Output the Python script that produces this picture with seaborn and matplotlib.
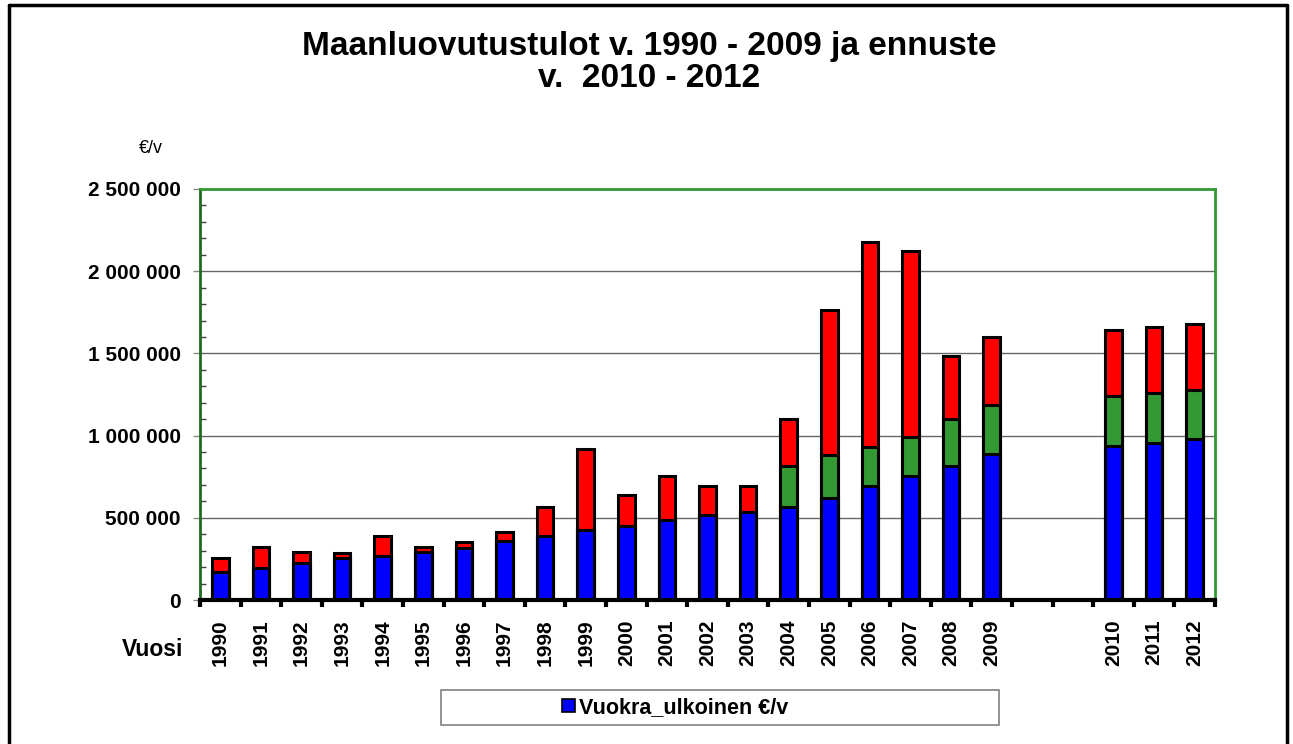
import pandas as pd
import numpy as np
import seaborn as sns
import matplotlib.pyplot as plt
from matplotlib.patches import Rectangle, Patch
from matplotlib.lines import Line2D
from matplotlib.ticker import MultipleLocator, FuncFormatter

sns.set_style("white")
plt.rcParams['font.family'] = ['Liberation Sans', 'DejaVu Sans']
plt.rcParams['text.color'] = 'black'
plt.rcParams['xtick.color'] = 'black'
plt.rcParams['ytick.color'] = 'black'

# Data (euros per year)
years = ["1990", "1991", "1992", "1993", "1994", "1995", "1996", "1997", "1998", "1999",
         "2000", "2001", "2002", "2003", "2004", "2005", "2006", "2007", "2008", "2009",
         "2010", "2011", "2012"]
vuokra_ulkoinen = [168000, 197000, 223000, 257000, 270000, 292000, 318000, 359000, 389000, 426000,
                   452000, 487000, 517000, 533000, 564000, 622000, 695000, 754000, 817000, 888000,
                   939000, 957000, 977000]
vuokra_muu = [0, 0, 0, 0, 0, 0, 0, 0, 0, 0,
              0, 0, 0, 0, 253000, 258000, 238000, 236000, 284000, 296000,
              302000, 300000, 300000]
myynti = [86000, 127000, 71000, 31000, 119000, 28000, 37000, 55000, 175000, 491000,
          187000, 267000, 176000, 160000, 286000, 884000, 1245000, 1133000, 383000, 416000,
          399000, 402000, 400000]

# x order: two empty slots between history and forecast
order = years[:20] + [" ", "  "] + years[20:]

df = pd.DataFrame({"vuosi": years, "blue": vuokra_ulkoinen,
                   "green": vuokra_muu, "red": myynti})
df["mid"] = df["blue"] + df["green"]
df["total"] = df["mid"] + df["red"]

fig = plt.figure(figsize=(12.93, 7.44), dpi=100)
ax = fig.add_axes([0.1547, 0.1935, 0.785, 0.5525])

# stacked bars: draw the totals first, then overlay lower parts
for col, color in [("total", "#FF0000"), ("mid", "#339933"), ("blue", "#0000FF")]:
    sns.barplot(data=df, x="vuosi", y=col, order=order, color=color, width=0.41,
                edgecolor="black", linewidth=2.2, saturation=1, ax=ax, zorder=3)

ax.set_ylim(0, 2500000)
ax.set_xlim(-0.5, len(order) - 0.5)
ax.yaxis.set_major_locator(MultipleLocator(500000))
ax.yaxis.set_minor_locator(MultipleLocator(100000))
ax.yaxis.set_major_formatter(FuncFormatter(lambda v, p: f"{int(v):,}".replace(",", " ")))
ax.grid(axis="y", which="major", color="#666666", linewidth=1.0, zorder=0)
ax.set_axisbelow(True)

ax.set_xlabel("")
ax.set_ylabel("")
ax.set_xticks(range(len(order)))
ax.set_xticklabels(order, rotation=90, fontweight="bold", fontsize=15)
ax.set_xticks(np.arange(-0.5, len(order), 1), minor=True)
ax.tick_params(axis="x", which="major", length=0, pad=14, bottom=True)
ax.tick_params(axis="x", which="minor", length=5, width=3, color="black", direction="out",
               bottom=True)
ax.tick_params(axis="y", which="major", length=5, width=1, color="#888888", direction="out",
               labelsize=15, pad=9, left=True)
ax.tick_params(axis="y", which="minor", length=4, width=1, color="#444444", direction="in",
               left=True)
for lab in ax.get_yticklabels():
    lab.set_fontweight("bold")

for side in ["top", "right"]:
    ax.spines[side].set_color("#339933")
    ax.spines[side].set_linewidth(2)
ax.spines["left"].set_color("#1f6b1f")
ax.spines["left"].set_linewidth(2)
ax.spines["bottom"].set_color("black")
ax.spines["bottom"].set_linewidth(3)
ax.spines["bottom"].set_zorder(5)

# titles and labels
fig.text(0.502, 0.937, "Maanluovutustulot v. 1990 - 2009 ja ennuste", ha="center", va="center",
         fontsize=24, fontweight="bold")
fig.text(0.502, 0.894, "v.  2010 - 2012", ha="center", va="center", fontsize=24,
         fontweight="bold")
fig.text(0.117, 0.801, "€/v", ha="center", va="center", fontsize=13)
fig.text(0.118, 0.127, "Vuosi", ha="center", va="center", fontsize=16.5, fontweight="bold")

# legend box (only first series shown)
fig.patches.append(Rectangle((0.341, 0.0255), 0.432, 0.047, transform=fig.transFigure,
                             facecolor="white", edgecolor="#808080", linewidth=1.2))
handles = [Patch(facecolor="#0000FF", edgecolor="black", linewidth=1.2)]
fig.legend(handles, ["Vuokra_ulkoinen €/v"], loc="center", bbox_to_anchor=(0.522, 0.049),
           frameon=False, prop={"weight": "bold", "size": 15.5}, handlelength=0.6,
           handleheight=0.6, handletextpad=0.2)

# outer chart border
for xs, ys in [([0.007, 0.007], [-0.01, 0.993]), ([0.007, 0.995], [0.993, 0.993]),
               ([0.995, 0.995], [-0.01, 0.993])]:
    fig.add_artist(Line2D(xs, ys, transform=fig.transFigure, color="black", linewidth=2.5))

fig.savefig("out.png", dpi=100)
